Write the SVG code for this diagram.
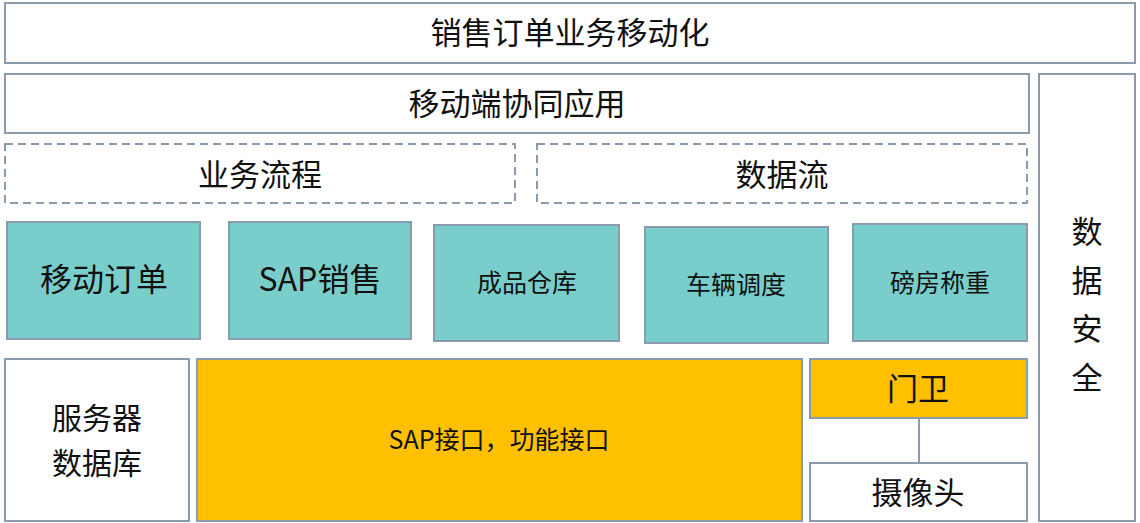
<svg xmlns="http://www.w3.org/2000/svg" width="1140" height="523" viewBox="0 0 1140 523">
<style>
.b{fill:#fff;stroke:#8a9bae;stroke-width:2}
.d{fill:#fff;stroke:#8a9bae;stroke-width:2;stroke-dasharray:8 5}
.t{fill:#79cecb;stroke:#8a9bae;stroke-width:2}
.y{fill:#ffc000;stroke:#8a9bae;stroke-width:2}
text{font-family:"Microsoft YaHei","Noto Sans CJK SC","Noto Sans",sans-serif;fill:#111;text-anchor:middle;dominant-baseline:central}
.f32{font-size:31px}
.f26{font-size:25px}
</style>
<rect width="1140" height="523" fill="#fff"/>
<g id="title"><rect class="b" x="5" y="3" width="1130" height="60"/><text class="f32" x="570" y="30">销售订单业务移动化</text></g>
<g id="app"><rect class="b" x="5" y="74" width="1024" height="59"/><text class="f32" x="517" y="101">移动端协同应用</text></g>
<g id="security"><rect class="b" x="1039" y="74" width="96" height="447"/>
<text class="f32" x="1087" y="229">数</text><text class="f32" x="1087" y="278">据</text><text class="f32" x="1087" y="326">安</text><text class="f32" x="1087" y="375">全</text></g>
<g id="flow"><rect class="d" x="5" y="144" width="510" height="59"/><text class="f32" x="260" y="172">业务流程</text></g>
<g id="dataflow"><rect class="d" x="537" y="144" width="490" height="59"/><text class="f32" x="782" y="172">数据流</text></g>
<g id="order"><rect class="t" x="7" y="222" width="193" height="117"/><text style="font-size:32px" x="104" y="277">移动订单</text></g>
<g id="sap"><rect class="t" x="229" y="222" width="182" height="117"/><text style="font-size:32px" x="320" y="277">SAP销售</text></g>
<g id="warehouse"><rect class="t" x="434" y="225" width="185" height="116"/><text class="f26" x="527" y="281">成品仓库</text></g>
<g id="vehicle"><rect class="t" x="645" y="227" width="183" height="116"/><text class="f26" x="736" y="283">车辆调度</text></g>
<g id="weigh"><rect class="t" x="853" y="224" width="174" height="117"/><text class="f26" x="940" y="281">磅房称重</text></g>
<g id="server"><rect class="b" x="5" y="359" width="184" height="162"/><text style="font-size:30px" x="97" y="416">服务器</text><text style="font-size:30px" x="97" y="461">数据库</text></g>
<g id="interface"><rect class="y" x="197" y="359" width="605" height="162"/><text class="f26" x="499" y="438">SAP接口，功能接口</text></g>
<g id="gate"><rect class="y" x="810" y="359" width="217" height="59"/><text class="f32" x="918" y="386">门卫</text></g>
<g id="camera"><rect class="b" x="810" y="463" width="217" height="58"/><text class="f32" x="918" y="490">摄像头</text></g>
<g id="connectors"><line x1="919" y1="418" x2="919" y2="463" stroke="#8a9bae" stroke-width="2"/></g>
</svg>
